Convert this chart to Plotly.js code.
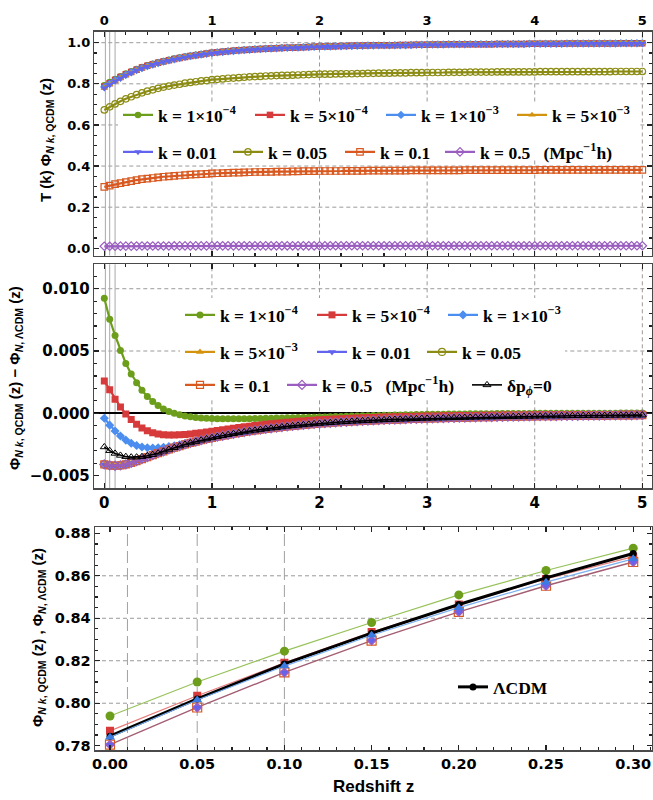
<!DOCTYPE html>
<html>
<head>
<meta charset="utf-8">
<script src="https://cdn.plot.ly/plotly-3.0.1.min.js"></script>
<style>html,body{margin:0;padding:0;background:#fff;}#chart{width:653px;height:800px;}</style>
</head>
<body>
<div id="chart"></div>
<script>
// ---------- DATA ----------
const zTop = [0,0.05,0.1,0.15,0.2,0.25,0.3,0.35,0.4,0.45,0.5,0.55,0.6,0.65,0.7,0.75,0.8,0.85,0.9,0.95,
1,1.05,1.1,1.15,1.2,1.25,1.3,1.35,1.4,1.45,1.5,1.55,1.6,1.65,1.7,1.75,1.8,1.85,1.9,1.95,
2,2.05,2.1,2.15,2.2,2.25,2.3,2.35,2.4,2.45,2.5,2.55,2.6,2.65,2.7,2.75,2.8,2.85,2.9,2.95,
3,3.05,3.1,3.15,3.2,3.25,3.3,3.35,3.4,3.45,3.5,3.55,3.6,3.65,3.7,3.75,3.8,3.85,3.9,3.95,
4,4.05,4.1,4.15,4.2,4.25,4.3,4.35,4.4,4.45,4.5,4.55,4.6,4.65,4.7,4.75,4.8,4.85,4.9,4.95,5];

// Top panel: T(k) Phi_{N k, QCDM}(z)
const tK1e4 = [0.793,0.809,0.824,0.837,0.850,0.861,0.872,0.882,0.890,0.898,
0.905,0.911,0.917,0.923,0.928,0.933,0.937,0.941,0.945,0.948,
0.952,0.955,0.957,0.960,0.962,0.964,0.966,0.967,0.969,0.970,
0.972,0.973,0.974,0.975,0.976,0.977,0.978,0.979,0.980,0.981,
0.982,0.983,0.983,0.984,0.984,0.985,0.985,0.986,0.986,0.987,
0.987,0.988,0.988,0.988,0.989,0.989,0.989,0.990,0.990,0.990,
0.991,0.991,0.991,0.991,0.992,0.992,0.992,0.992,0.993,0.993,
0.993,0.993,0.993,0.994,0.994,0.994,0.994,0.994,0.994,0.995,
0.995,0.995,0.995,0.995,0.995,0.995,0.996,0.996,0.996,0.996,
0.996,0.996,0.996,0.996,0.996,0.996,0.997,0.997,0.997,0.997,0.997];
const tK5e4 = [0.787,0.803,0.819,0.833,0.846,0.858,0.869,0.879,0.888,0.895,
0.902,0.909,0.915,0.921,0.926,0.931,0.935,0.939,0.943,0.947,
0.951,0.954,0.956,0.959,0.961,0.963,0.965,0.966,0.968,0.969,
0.971,0.972,0.973,0.974,0.975,0.976,0.977,0.978,0.979,0.980,
0.981,0.982,0.982,0.983,0.984,0.984,0.985,0.985,0.986,0.986,
0.987,0.987,0.988,0.988,0.988,0.989,0.989,0.989,0.990,0.990,
0.990,0.991,0.991,0.991,0.992,0.992,0.992,0.992,0.993,0.993,
0.993,0.993,0.993,0.994,0.994,0.994,0.994,0.994,0.994,0.995,
0.995,0.995,0.995,0.995,0.995,0.995,0.996,0.996,0.996,0.996,
0.996,0.996,0.996,0.996,0.996,0.996,0.997,0.997,0.997,0.997,0.997];
const tK1e3 = [0.784,0.800,0.817,0.830,0.844,0.856,0.867,0.877,0.886,0.894,
0.901,0.908,0.914,0.920,0.926,0.931,0.935,0.939,0.943,0.946,
0.950,0.953,0.955,0.958,0.960,0.962,0.965,0.966,0.968,0.969,
0.971,0.972,0.973,0.974,0.975,0.976,0.977,0.978,0.979,0.980,
0.981,0.982,0.982,0.983,0.983,0.984,0.984,0.985,0.985,0.986,
0.986,0.987,0.987,0.987,0.988,0.988,0.988,0.989,0.990,0.990,
0.991,0.991,0.991,0.991,0.992,0.992,0.992,0.992,0.993,0.993,
0.993,0.993,0.993,0.994,0.994,0.994,0.994,0.994,0.994,0.995,
0.995,0.995,0.995,0.995,0.995,0.995,0.996,0.996,0.996,0.996,
0.996,0.996,0.996,0.996,0.996,0.996,0.997,0.997,0.997,0.997,0.997];
const tK5e3 = [0.780,0.797,0.814,0.828,0.842,0.854,0.866,0.876,0.885,0.894,
0.901,0.908,0.914,0.920,0.925,0.930,0.935,0.939,0.943,0.946,
0.950,0.953,0.955,0.958,0.960,0.962,0.965,0.966,0.968,0.969,
0.971,0.972,0.973,0.974,0.975,0.976,0.977,0.978,0.979,0.980,
0.981,0.982,0.982,0.983,0.983,0.984,0.984,0.985,0.985,0.986,
0.986,0.987,0.987,0.987,0.988,0.988,0.988,0.989,0.990,0.990,
0.991,0.991,0.991,0.991,0.992,0.992,0.992,0.992,0.993,0.993,
0.993,0.993,0.993,0.994,0.994,0.994,0.994,0.994,0.994,0.995,
0.995,0.995,0.995,0.995,0.995,0.995,0.996,0.996,0.996,0.996,
0.996,0.996,0.996,0.996,0.996,0.996,0.997,0.997,0.997,0.997,0.997];
const tK001 = [0.779,0.796,0.813,0.827,0.841,0.853,0.865,0.875,0.884,0.893,
0.900,0.907,0.913,0.919,0.924,0.929,0.934,0.938,0.942,0.945,
0.949,0.952,0.954,0.957,0.959,0.961,0.964,0.965,0.967,0.968,
0.970,0.971,0.972,0.973,0.974,0.975,0.976,0.977,0.978,0.979,
0.980,0.981,0.981,0.982,0.982,0.983,0.983,0.984,0.984,0.985,
0.985,0.986,0.986,0.986,0.987,0.987,0.987,0.988,0.989,0.989,
0.990,0.990,0.990,0.990,0.991,0.991,0.991,0.991,0.992,0.992,
0.992,0.992,0.992,0.993,0.993,0.993,0.993,0.993,0.993,0.994,
0.994,0.994,0.994,0.994,0.994,0.994,0.995,0.995,0.995,0.995,
0.995,0.995,0.995,0.995,0.995,0.995,0.996,0.996,0.996,0.996,0.996];
const tK005 = [0.673,0.688,0.702,0.715,0.727,0.737,0.747,0.756,0.764,0.771,
0.778,0.784,0.789,0.794,0.798,0.803,0.807,0.810,0.814,0.816,
0.820,0.822,0.824,0.827,0.828,0.830,0.832,0.834,0.835,0.836,
0.838,0.839,0.840,0.841,0.841,0.842,0.843,0.844,0.845,0.846,
0.847,0.847,0.847,0.848,0.848,0.849,0.849,0.850,0.850,0.851,
0.851,0.852,0.852,0.852,0.853,0.853,0.853,0.854,0.854,0.854,
0.855,0.855,0.855,0.855,0.856,0.856,0.856,0.856,0.857,0.857,
0.857,0.857,0.857,0.858,0.858,0.858,0.858,0.858,0.858,0.858,
0.858,0.859,0.859,0.859,0.859,0.859,0.859,0.859,0.859,0.859,
0.859,0.859,0.859,0.859,0.859,0.860,0.860,0.860,0.860,0.860,0.860];
const tK01 = [0.299,0.305,0.312,0.317,0.322,0.327,0.332,0.336,0.339,0.342,
0.345,0.348,0.350,0.352,0.354,0.356,0.358,0.360,0.361,0.362,
0.364,0.365,0.366,0.367,0.368,0.368,0.369,0.370,0.371,0.371,
0.372,0.372,0.373,0.373,0.373,0.374,0.374,0.375,0.375,0.375,
0.376,0.376,0.376,0.376,0.376,0.377,0.377,0.377,0.377,0.378,
0.378,0.378,0.378,0.378,0.378,0.378,0.378,0.379,0.379,0.379,
0.379,0.379,0.379,0.379,0.379,0.379,0.379,0.380,0.380,0.380,
0.380,0.380,0.380,0.380,0.380,0.380,0.380,0.380,0.380,0.380,
0.380,0.381,0.381,0.381,0.381,0.381,0.381,0.381,0.381,0.381,
0.381,0.381,0.381,0.381,0.381,0.381,0.381,0.381,0.381,0.381,0.381];
const tK05 = [0.0098,0.0100,0.0102,0.0104,0.0105,0.0107,0.0108,0.0110,0.0111,0.0112,
0.0113,0.0113,0.0114,0.0115,0.0116,0.0116,0.0117,0.0117,0.0118,0.0118,
0.0119,0.0119,0.0120,0.0120,0.0120,0.0120,0.0121,0.0121,0.0121,0.0121,
0.0121,0.0122,0.0122,0.0122,0.0122,0.0122,0.0122,0.0122,0.0122,0.0122,
0.0122,0.0123,0.0123,0.0123,0.0123,0.0123,0.0123,0.0123,0.0123,0.0123,
0.0123,0.0123,0.0123,0.0123,0.0123,0.0123,0.0123,0.0123,0.0123,0.0123,
0.0123,0.0124,0.0124,0.0124,0.0124,0.0124,0.0124,0.0124,0.0124,0.0124,
0.0124,0.0124,0.0124,0.0124,0.0124,0.0124,0.0124,0.0124,0.0124,0.0124,
0.0124,0.0124,0.0124,0.0124,0.0124,0.0124,0.0124,0.0124,0.0124,0.0124,
0.0124,0.0124,0.0124,0.0124,0.0124,0.0124,0.0124,0.0124,0.0124,0.0124,0.0124];

// Middle panel: Phi_{N k, QCDM}(z) - Phi_{N, LCDM}(z)
const dK1e4 = [0.00923,0.00755,0.00625,0.00505,0.00400,0.00315,0.00245,0.00185,0.00135,0.00095,
0.00062,0.00035,0.00015,0.00000,-0.00012,-0.00021,-0.00028,-0.00033,-0.00037,-0.00040,
-0.00042,-0.00043,-0.00044,-0.00044,-0.00044,-0.00044,-0.00043,-0.00043,-0.00042,-0.00041,
-0.00040,-0.00039,-0.00038,-0.00037,-0.00036,-0.00035,-0.00034,-0.00033,-0.00032,-0.00031,
-0.00030,-0.00029,-0.00027,-0.00026,-0.00025,-0.00023,-0.00022,-0.00021,-0.00020,-0.00019,
-0.00018,-0.00017,-0.00016,-0.00015,-0.00014,-0.00013,-0.00012,-0.00011,-0.00010,-0.00009,
-0.00008,-0.00008,-0.00007,-0.00007,-0.00006,-0.00006,-0.00005,-0.00005,-0.00004,-0.00004,
-0.00003,-0.00003,-0.00003,-0.00002,-0.00002,-0.00002,-0.00001,-0.00001,-0.00001,-0.00001,
0,0,0,0,0,0,0.00001,0.00001,0.00001,0.00001,
0.00001,0.00001,0.00001,0.00001,0.00001,0.00001,0.00002,0.00002,0.00002,0.00002,0.00002];
const dK5e4 = [0.00260,0.00190,0.00112,0.00050,-0.00005,-0.00050,-0.00088,-0.00118,-0.00140,-0.00156,
-0.00166,-0.00172,-0.00175,-0.00175,-0.00173,-0.00170,-0.00166,-0.00161,-0.00156,-0.00150,
-0.00144,-0.00138,-0.00132,-0.00126,-0.00120,-0.00114,-0.00108,-0.00103,-0.00098,-0.00093,
-0.00088,-0.00083,-0.00079,-0.00075,-0.00071,-0.00067,-0.00064,-0.00061,-0.00058,-0.00055,
-0.00052,-0.00050,-0.00047,-0.00045,-0.00043,-0.00041,-0.00039,-0.00037,-0.00036,-0.00034,
-0.00033,-0.00031,-0.00030,-0.00029,-0.00028,-0.00027,-0.00026,-0.00025,-0.00024,-0.00023,
-0.00022,-0.00021,-0.00021,-0.00020,-0.00019,-0.00019,-0.00018,-0.00018,-0.00017,-0.00017,
-0.00016,-0.00016,-0.00015,-0.00015,-0.00014,-0.00014,-0.00014,-0.00013,-0.00013,-0.00013,
-0.00012,-0.00012,-0.00012,-0.00011,-0.00011,-0.00011,-0.00011,-0.00010,-0.00010,-0.00010,
-0.00010,-0.00009,-0.00009,-0.00009,-0.00009,-0.00009,-0.00008,-0.00008,-0.00008,-0.00008,-0.00008];
const dK1e3 = [-0.00040,-0.00095,-0.00142,-0.00182,-0.00215,-0.00240,-0.00258,-0.00270,-0.00276,-0.00278,
-0.00277,-0.00273,-0.00267,-0.00260,-0.00252,-0.00243,-0.00234,-0.00225,-0.00215,-0.00206,
-0.00197,-0.00188,-0.00180,-0.00172,-0.00164,-0.00157,-0.00150,-0.00143,-0.00137,-0.00131,
-0.00125,-0.00120,-0.00115,-0.00110,-0.00105,-0.00101,-0.00097,-0.00093,-0.00089,-0.00085,
-0.00082,-0.00079,-0.00076,-0.00073,-0.00070,-0.00068,-0.00065,-0.00063,-0.00061,-0.00059,
-0.00057,-0.00055,-0.00053,-0.00051,-0.00050,-0.00048,-0.00047,-0.00045,-0.00044,-0.00042,
-0.00041,-0.00040,-0.00039,-0.00038,-0.00037,-0.00036,-0.00035,-0.00034,-0.00033,-0.00032,
-0.00031,-0.00030,-0.00030,-0.00029,-0.00028,-0.00027,-0.00027,-0.00026,-0.00025,-0.00025,
-0.00024,-0.00023,-0.00023,-0.00022,-0.00022,-0.00021,-0.00021,-0.00020,-0.00020,-0.00019,
-0.00019,-0.00018,-0.00018,-0.00018,-0.00017,-0.00017,-0.00016,-0.00016,-0.00016,-0.00015,-0.00015];
// k = 5e-3, 0.01, 0.05, 0.1, 0.5 coincide in the middle panel
const dLargeK = [-0.00410,-0.00418,-0.00421,-0.00418,-0.00410,-0.00398,-0.00384,-0.00368,-0.00352,-0.00336,
-0.00320,-0.00305,-0.00290,-0.00276,-0.00263,-0.00250,-0.00238,-0.00227,-0.00216,-0.00206,
-0.00197,-0.00188,-0.00180,-0.00172,-0.00164,-0.00157,-0.00150,-0.00143,-0.00137,-0.00131,
-0.00125,-0.00120,-0.00115,-0.00110,-0.00105,-0.00101,-0.00097,-0.00093,-0.00089,-0.00085,
-0.00082,-0.00079,-0.00076,-0.00073,-0.00070,-0.00068,-0.00065,-0.00063,-0.00061,-0.00059,
-0.00057,-0.00055,-0.00053,-0.00051,-0.00050,-0.00048,-0.00047,-0.00045,-0.00044,-0.00042,
-0.00041,-0.00040,-0.00039,-0.00038,-0.00037,-0.00036,-0.00035,-0.00034,-0.00033,-0.00032,
-0.00031,-0.00030,-0.00030,-0.00029,-0.00028,-0.00027,-0.00027,-0.00026,-0.00025,-0.00025,
-0.00024,-0.00023,-0.00023,-0.00022,-0.00022,-0.00021,-0.00021,-0.00020,-0.00020,-0.00019,
-0.00019,-0.00018,-0.00018,-0.00018,-0.00017,-0.00017,-0.00016,-0.00016,-0.00016,-0.00015,-0.00015];
const dNoPert = [-0.00270,-0.00300,-0.00322,-0.00338,-0.00348,-0.00352,-0.00352,-0.00348,-0.00341,-0.00332,
-0.00320,-0.00305,-0.00290,-0.00276,-0.00263,-0.00250,-0.00238,-0.00227,-0.00216,-0.00206,
-0.00197,-0.00188,-0.00180,-0.00172,-0.00164,-0.00157,-0.00150,-0.00143,-0.00137,-0.00131,
-0.00125,-0.00120,-0.00115,-0.00110,-0.00105,-0.00101,-0.00097,-0.00093,-0.00089,-0.00085,
-0.00082,-0.00079,-0.00076,-0.00073,-0.00070,-0.00068,-0.00065,-0.00063,-0.00061,-0.00059,
-0.00057,-0.00055,-0.00053,-0.00051,-0.00050,-0.00048,-0.00047,-0.00045,-0.00044,-0.00042,
-0.00041,-0.00040,-0.00039,-0.00038,-0.00037,-0.00036,-0.00035,-0.00034,-0.00033,-0.00032,
-0.00031,-0.00030,-0.00030,-0.00029,-0.00028,-0.00027,-0.00027,-0.00026,-0.00025,-0.00025,
-0.00024,-0.00023,-0.00023,-0.00022,-0.00022,-0.00021,-0.00021,-0.00020,-0.00020,-0.00019,
-0.00019,-0.00018,-0.00018,-0.00018,-0.00017,-0.00017,-0.00016,-0.00016,-0.00016,-0.00015,-0.00015];

// Bottom panel: low redshift zoom
const zLow = [0, 0.05, 0.10, 0.15, 0.20, 0.25, 0.30];
const bK1e4 = [0.794, 0.810, 0.8245, 0.838, 0.851, 0.8625, 0.873];
const bK5e4 = [0.787, 0.8035, 0.819, 0.8335, 0.8465, 0.8585, 0.869];
const bK1e3 = [0.784, 0.8015, 0.8175, 0.832, 0.845, 0.857, 0.868];
const bLargeK = [0.7805, 0.798, 0.8145, 0.8295, 0.843, 0.8553, 0.8665];
const bLCDM = [0.7845, 0.802, 0.8185, 0.833, 0.8465, 0.859, 0.8705];

const kLabels = ['k = 1×10<sup>−4</sup>','k = 5×10<sup>−4</sup>','k = 1×10<sup>−3</sup>','k = 5×10<sup>−3</sup>',
  'k = 0.01','k = 0.05','k = 0.1','k = 0.5\u00a0\u00a0 (Mpc<sup>−1</sup>h)'];
const noPertLabel = 'δp<sub><i>ϕ</i></sub>=0';
const lcdmLabel = 'ΛCDM';

// ---------- STYLE ----------
const W = 653, H = 800;
const px = v => v / W, py = v => 1 - v / H;
const C = {green:'#6c9e1c', red:'#d63a3a', lblue:'#4b8ef0', orange:'#d4930e', indigo:'#6264ee',
           olive:'#8c8c14', ored:'#d8581f', purple:'#9a5ec0', black:'#000000'};
const styles = [
  {c:C.green,  s:'circle'},
  {c:C.red,    s:'square'},
  {c:C.lblue,  s:'diamond'},
  {c:C.orange, s:'triangle-up'},
  {c:C.indigo, s:'triangle-down'},
  {c:C.olive,  s:'circle-open'},
  {c:C.ored,   s:'square-open'},
  {c:C.purple, s:'diamond-open'}
];
// legend anchor positions [text start px, center y px]
const legPos = [
  [158,115],[290,115],[421,115],[552,115],[158,152],[268,152],[380,152],[480,152],
  [220,315],[352,315],[483,315],[220,352],[352,352],[462,352],[220,385],[322,385],[507,385],
  [493,687]
];
const legendFont = {family:'Liberation Serif', size:17.5, weight:'bold', color:'#000'};

const traces = [];
let legIdx = 0;
function legId() { legIdx++; return legIdx === 1 ? 'legend' : 'legend' + legIdx; }
function addSeries(x, y, name, st, xa, ya, msize, lw) {
  traces.push({
    type:'scatter', mode:'lines+markers', x:x, y:y, name:name,
    xaxis:xa, yaxis:ya, legend:legId(),
    line:{color:st.c, width:lw},
    marker:{color:st.c, symbol:st.s, size:msize, line:{color:st.c, width:st.s.indexOf('open')>=0?1.2:0}}
  });
}
const topY = [tK1e4, tK5e4, tK1e3, tK5e3, tK001, tK005, tK01, tK05];
topY.forEach((arr,i) => addSeries(zTop, arr, kLabels[i], styles[i], 'x', 'y', 6.5, 2.2));
const midY = [dK1e4, dK5e4, dK1e3, dLargeK, dLargeK, dLargeK, dLargeK, dLargeK];
midY.forEach((arr,i) => addSeries(zTop, arr, kLabels[i], styles[i], 'x2', 'y2', 7, 2.2));
traces.push({type:'scatter', mode:'lines+markers', x:zTop, y:dNoPert, name:noPertLabel,
  xaxis:'x2', yaxis:'y2', legend:legId(),
  line:{color:'#000', width:1.6}, marker:{symbol:'triangle-up-open', color:'#000', size:7, line:{color:'#000', width:1}}});

// bottom panel
traces.push({type:'scatter', mode:'lines+markers', x:zLow, y:bK1e4, xaxis:'x3', yaxis:'y3', showlegend:false, name:kLabels[0],
  line:{color:'#97c25a', width:1.2}, marker:{color:C.green, symbol:'circle', size:9}});
traces.push({type:'scatter', mode:'lines+markers', x:zLow, y:bK5e4, xaxis:'x3', yaxis:'y3', showlegend:false, name:kLabels[1],
  line:{color:'#e77c7c', width:1.2}, marker:{color:C.red, symbol:'square', size:8}});
traces.push({type:'scatter', mode:'lines+markers', x:zLow, y:bLargeK, xaxis:'x3', yaxis:'y3', showlegend:false, name:kLabels[6],
  line:{color:'#a35d72', width:1.4}, marker:{color:C.ored, symbol:'square-open', size:9, line:{color:C.ored, width:1.2}}});
traces.push({type:'scatter', mode:'markers', x:zLow, y:bLargeK, xaxis:'x3', yaxis:'y3', showlegend:false, name:kLabels[7],
  marker:{color:C.purple, symbol:'diamond', size:8}});
traces.push({type:'scatter', mode:'markers', x:zLow, y:bLargeK, xaxis:'x3', yaxis:'y3', showlegend:false, name:kLabels[4],
  marker:{color:C.indigo, symbol:'triangle-down', size:7}});
traces.push({type:'scatter', mode:'lines+markers', x:zLow, y:bLCDM, xaxis:'x3', yaxis:'y3', name:lcdmLabel, legend:legId(),
  line:{color:'#000', width:3}, marker:{color:'#000', symbol:'circle', size:7}});
traces.push({type:'scatter', mode:'lines+markers', x:zLow, y:bK1e3, xaxis:'x3', yaxis:'y3', showlegend:false, name:kLabels[2],
  line:{color:'#7cb0f2', width:1.2}, marker:{color:'#3b7be2', symbol:'triangle-up', size:9}});

// ---------- LAYOUT ----------
const frame = '#4a4a4a';
const tickFontSmall = {family:'DejaVu Sans', size:13, weight:'bold', color:'#000'};
const tickFontMid = {family:'DejaVu Sans', size:15, weight:'bold', color:'#000'};
const tickFontLow = {family:'DejaVu Sans', size:14.5, weight:'bold', color:'#000'};
function axis(o) {
  return Object.assign({showline:true, linecolor:frame, linewidth:1.5, mirror:'ticks', ticks:'inside',
    ticklen:5, tickwidth:1.2, tickcolor:'#222', showgrid:false, zeroline:false, fixedrange:true}, o);
}
const layout = {
  width:W, height:H, margin:{l:0, r:0, t:0, b:0}, paper_bgcolor:'#fff', plot_bgcolor:'#fff',
  showlegend:true,
  xaxis: axis({domain:[px(94.3), px(651.7)], range:[-0.093, 5.087], anchor:'y', side:'top',
    tick0:0, dtick:1, tickfont:tickFontSmall, minor:{ticks:'inside', ticklen:3, dtick:0.2, tickcolor:'#222'}}),
  yaxis: axis({domain:[py(255.5), py(31.7)], range:[-0.035, 1.0535], anchor:'x',
    tick0:0, dtick:0.2, tickformat:'.1f', tickfont:tickFontSmall, minor:{ticks:'inside', ticklen:3, dtick:0.05, tickcolor:'#222'}}),
  xaxis2: axis({domain:[px(94.3), px(651.7)], range:[-0.093, 5.087], anchor:'y2',
    tick0:0, dtick:1, tickfont:tickFontMid, minor:{ticks:'inside', ticklen:3, dtick:0.2, tickcolor:'#222'}}),
  yaxis2: axis({domain:[py(488.3), py(264.3)], range:[-0.00602, 0.01196], anchor:'x2',
    tick0:0, dtick:0.005, tickformat:'.3f', tickfont:tickFontMid,
    zeroline:true, zerolinecolor:'#000', zerolinewidth:2.2,
    minor:{ticks:'inside', ticklen:3, dtick:0.001, tickcolor:'#222'}}),
  xaxis3: axis({domain:[px(95), px(651.7)], range:[-0.0086, 0.3106], anchor:'y3',
    tick0:0, dtick:0.05, tickformat:'.2f', tickfont:tickFontLow, minor:{ticks:'inside', ticklen:3, dtick:0.01, tickcolor:'#222'}}),
  yaxis3: axis({domain:[py(750), py(527.3)], range:[0.77798, 0.88283], anchor:'x3',
    tick0:0.78, dtick:0.02, tickformat:'.2f', tickfont:tickFontLow, minor:{ticks:'inside', ticklen:3, dtick:0.005, tickcolor:'#222'}}),
  shapes: [],
  annotations: [
    {text:'T (k) Φ<sub><i>N k</i>, QCDM</sub> (z)', xref:'paper', yref:'paper', x:px(46), y:py(140),
     textangle:-90, showarrow:false, xanchor:'center', yanchor:'middle',
     font:{family:'Liberation Sans', size:15, weight:'bold', color:'#000'}},
    {text:'Φ<sub><i>N k</i>, QCDM</sub> (z) − Φ<sub><i>N</i>, ΛCDM</sub> (z)', xref:'paper', yref:'paper', x:px(16), y:py(378),
     textangle:-90, showarrow:false, xanchor:'center', yanchor:'middle',
     font:{family:'Liberation Sans', size:15, weight:'bold', color:'#000'}},
    {text:'Φ<sub><i>N k</i>, QCDM</sub> (z) , Φ<sub><i>N</i>, ΛCDM</sub> (z)', xref:'paper', yref:'paper', x:px(38), y:py(638),
     textangle:-90, showarrow:false, xanchor:'center', yanchor:'middle',
     font:{family:'Liberation Sans', size:15, weight:'bold', color:'#000'}},
    {text:'Redshift z', xref:'paper', yref:'paper', x:px(373), y:py(786), showarrow:false,
     xanchor:'center', yanchor:'middle', font:{family:'Liberation Sans', size:17, weight:'bold', color:'#000'}}
  ]
};
// legends
legPos.forEach((p, i) => {
  const key = i === 0 ? 'legend' : 'legend' + (i + 1);
  layout[key] = {x:px(p[0] - 40), xanchor:'left', y:py(p[1]), yanchor:'middle', bgcolor:'rgba(0,0,0,0)',
    borderwidth:0, font:legendFont, itemwidth:30, tracegroupgap:0};
});
// grid-like reference lines
const gridDash = {color:'#9a9a9a', width:1, dash:'4px,3px'};
function vline(xa, ya, v, line) { layout.shapes.push({type:'line', layer:'below', xref:xa, yref:ya + ' domain', x0:v, x1:v, y0:0, y1:1, line:line}); }
function hline(xa, ya, v, line) { layout.shapes.push({type:'line', layer:'below', xref:xa + ' domain', yref:ya, x0:0, x1:1, y0:v, y1:v, line:line}); }
[1,2,3,4,5].forEach(v => { vline('x','y',v,gridDash); vline('x2','y2',v,gridDash); });
[0.2,0.4,0.6,0.8,1.0].forEach(v => hline('x','y',v,gridDash));
[0.005,0.010].forEach(v => hline('x2','y2',v,gridDash));
[0.01,0.05,0.1].forEach(v => { vline('x','y',v,{color:'#a8a8a8', width:1}); vline('x2','y2',v,{color:'#a8a8a8', width:1}); });
[0.80,0.82,0.84,0.86].forEach(v => hline('x3','y3',v,gridDash));
[0.01,0.05,0.10].forEach(v => vline('x3','y3',v,{color:'#a0a0a0', width:1, dash:'12px,5px'}));
// white backdrop behind the legend blocks
layout.shapes.push({type:'rect', layer:'below', xref:'paper', yref:'paper', x0:px(118), x1:px(640), y0:py(160), y1:py(104), fillcolor:'#fff', line:{width:0}});
layout.shapes.push({type:'rect', layer:'below', xref:'paper', yref:'paper', x0:px(180), x1:px(565), y0:py(398), y1:py(298), fillcolor:'#fff', line:{width:0}});

Plotly.newPlot('chart', traces, layout, {displayModeBar:false, staticPlot:true});
</script>
</body>
</html>
